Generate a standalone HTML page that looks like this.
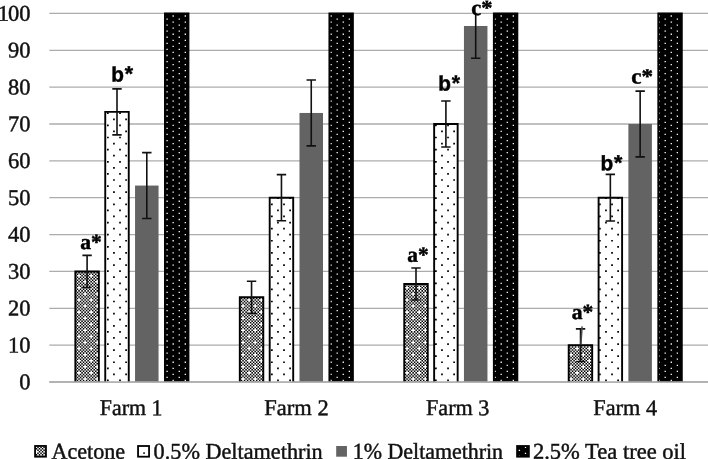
<!DOCTYPE html>
<html><head><meta charset="utf-8"><title>Chart</title>
<style>html,body{margin:0;padding:0;background:#fff;overflow:hidden}svg{display:block}text{font-family:"Liberation Serif",serif;fill:#111;stroke:#111;stroke-width:0.45px;text-rendering:geometricPrecision}.sb{font-family:"Liberation Sans",sans-serif;font-weight:bold;fill:#000;stroke:#000}.rb{font-family:"Liberation Serif",serif;font-weight:bold;fill:#000;stroke:#000}</style></head><body>
<div style="width:708px;height:459px;will-change:transform"><svg width="708" height="459" viewBox="0 0 708 459">
<rect width="708" height="459" fill="#fff"/>
<line x1="49.3" x2="708" y1="382" y2="382" stroke="#acacac" stroke-width="1.3"/>
<line x1="49.3" x2="708" y1="345.14" y2="345.14" stroke="#acacac" stroke-width="1.3"/>
<line x1="49.3" x2="708" y1="308.29" y2="308.29" stroke="#acacac" stroke-width="1.3"/>
<line x1="49.3" x2="708" y1="271.44" y2="271.44" stroke="#acacac" stroke-width="1.3"/>
<line x1="49.3" x2="708" y1="234.58" y2="234.58" stroke="#acacac" stroke-width="1.3"/>
<line x1="49.3" x2="708" y1="197.72" y2="197.72" stroke="#acacac" stroke-width="1.3"/>
<line x1="49.3" x2="708" y1="160.87" y2="160.87" stroke="#acacac" stroke-width="1.3"/>
<line x1="49.3" x2="708" y1="124.01" y2="124.01" stroke="#acacac" stroke-width="1.3"/>
<line x1="49.3" x2="708" y1="87.16" y2="87.16" stroke="#acacac" stroke-width="1.3"/>
<line x1="49.3" x2="708" y1="50.31" y2="50.31" stroke="#acacac" stroke-width="1.3"/>
<line x1="49.3" x2="708" y1="13.45" y2="13.45" stroke="#acacac" stroke-width="1.3"/>
<text text-anchor="end" transform="translate(30.6 389.25) matrix(1.0000 0.0006 0 1 0 0)" font-size="22.5">0</text>
<text text-anchor="end" transform="translate(30.6 352.39) matrix(1.0000 0.0006 0 1 0 0)" font-size="22.5">10</text>
<text text-anchor="end" transform="translate(30.6 315.54) matrix(1.0000 0.0006 0 1 0 0)" font-size="22.5">20</text>
<text text-anchor="end" transform="translate(30.6 278.69) matrix(1.0000 0.0006 0 1 0 0)" font-size="22.5">30</text>
<text text-anchor="end" transform="translate(30.6 241.83) matrix(1.0000 0.0006 0 1 0 0)" font-size="22.5">40</text>
<text text-anchor="end" transform="translate(30.6 204.97) matrix(1.0000 0.0006 0 1 0 0)" font-size="22.5">50</text>
<text text-anchor="end" transform="translate(30.6 168.12) matrix(1.0000 0.0006 0 1 0 0)" font-size="22.5">60</text>
<text text-anchor="end" transform="translate(30.6 131.26) matrix(1.0000 0.0006 0 1 0 0)" font-size="22.5">70</text>
<text text-anchor="end" transform="translate(30.6 94.41) matrix(1.0000 0.0006 0 1 0 0)" font-size="22.5">80</text>
<text text-anchor="end" transform="translate(30.6 57.56) matrix(1.0000 0.0006 0 1 0 0)" font-size="22.5">90</text>
<text text-anchor="end" transform="translate(30.6 20.7) matrix(1.0000 0.0006 0 1 0 0)" font-size="22.5">1<tspan dx="-1">00</tspan></text>
<clipPath id="k1"><rect x="75.35" y="271.44" width="23.5" height="110.56"/></clipPath>
<g clip-path="url(#k1)"><rect x="75.35" y="271.44" width="23.5" height="110.56" fill="#fff"/>
<path d="M61.55 271.13H99.8M60.04 272.65H99.8M61.55 274.16H99.8M61.55 277.20H99.8M60.04 278.72H99.8M61.55 280.24H99.8M61.55 283.28H99.8M60.04 284.79H99.8M61.55 286.31H99.8M61.55 289.35H99.8M60.04 290.87H99.8M61.55 292.39H99.8M61.55 295.43H99.8M60.04 296.94H99.8M61.55 298.46H99.8M61.55 301.50H99.8M60.04 303.02H99.8M61.55 304.54H99.8M61.55 307.57H99.8M60.04 309.09H99.8M61.55 310.61H99.8M61.55 313.65H99.8M60.04 315.17H99.8M61.55 316.69H99.8M61.55 319.72H99.8M60.04 321.24H99.8M61.55 322.76H99.8M61.55 325.80H99.8M60.04 327.32H99.8M61.55 328.83H99.8M61.55 331.87H99.8M60.04 333.39H99.8M61.55 334.91H99.8M61.55 337.95H99.8M60.04 339.46H99.8M61.55 340.98H99.8M61.55 344.02H99.8M60.04 345.54H99.8M61.55 347.06H99.8M61.55 350.09H99.8M60.04 351.61H99.8M61.55 353.13H99.8M61.55 356.17H99.8M60.04 357.69H99.8M61.55 359.21H99.8M61.55 362.24H99.8M60.04 363.76H99.8M61.55 365.28H99.8M61.55 368.32H99.8M60.04 369.84H99.8M61.55 371.36H99.8M61.55 374.39H99.8M60.04 375.91H99.8M61.55 377.43H99.8M61.55 380.47H99.8M60.04 381.99H99.8M61.55 383.50H99.8" fill="none" stroke="#000" stroke-width="1.5186" stroke-dasharray="1.5186 1.5186"/>
<path d="M69.15 275.68H99.8M63.07 281.76H99.8M69.15 287.83H99.8M63.07 293.91H99.8M69.15 299.98H99.8M63.07 306.06H99.8M69.15 312.13H99.8M63.07 318.20H99.8M69.15 324.28H99.8M63.07 330.35H99.8M69.15 336.43H99.8M63.07 342.50H99.8M69.15 348.58H99.8M63.07 354.65H99.8M69.15 360.72H99.8M63.07 366.80H99.8M69.15 372.87H99.8M63.07 378.95H99.8" fill="none" stroke="#000" stroke-width="1.5186" stroke-dasharray="1.5186 1.5186 1.5186 1.5186 1.5186 4.5558"/></g>
<path d="M75.35 382.0 V271.44 H98.85 V382.0" fill="none" stroke="#000" stroke-width="1.9"/>
<clipPath id="k2"><rect x="105.25" y="111.85" width="23.5" height="270.15"/></clipPath>
<g clip-path="url(#k2)"><rect x="105.25" y="111.85" width="23.5" height="270.15" fill="#fff"/>
<path d="M94.86 113.19H129.8M88.79 119.27H129.8M94.86 125.34H129.8M88.79 131.42H129.8M94.86 137.49H129.8M88.79 143.57H129.8M94.86 149.64H129.8M88.79 155.71H129.8M94.86 161.79H129.8M88.79 167.86H129.8M94.86 173.94H129.8M88.79 180.01H129.8M94.86 186.09H129.8M88.79 192.16H129.8M94.86 198.23H129.8M88.79 204.31H129.8M94.86 210.38H129.8M88.79 216.46H129.8M94.86 222.53H129.8M88.79 228.61H129.8M94.86 234.68H129.8M88.79 240.76H129.8M94.86 246.83H129.8M88.79 252.90H129.8M94.86 258.98H129.8M88.79 265.05H129.8M94.86 271.13H129.8M88.79 277.20H129.8M94.86 283.28H129.8M88.79 289.35H129.8M94.86 295.43H129.8M88.79 301.50H129.8M94.86 307.57H129.8M88.79 313.65H129.8M94.86 319.72H129.8M88.79 325.80H129.8M94.86 331.87H129.8M88.79 337.95H129.8M94.86 344.02H129.8M88.79 350.09H129.8M94.86 356.17H129.8M88.79 362.24H129.8M94.86 368.32H129.8M88.79 374.39H129.8M94.86 380.47H129.8" fill="none" stroke="#000" stroke-width="1.7186" stroke-dasharray="1.7186 10.4302"/></g>
<path d="M105.25 382.0 V111.85 H128.75 V382.0" fill="none" stroke="#000" stroke-width="1.9"/>
<rect x="135.05" y="185.56" width="23.5" height="196.44" fill="#636363"/>
<clipPath id="k3"><rect x="164.95" y="13.45" width="23.5" height="368.55"/></clipPath>
<g clip-path="url(#k3)"><rect x="164.95" y="13.45" width="23.5" height="368.55" fill="#000"/>
<path d="M154.30 12.97H189.4M160.37 16.00H189.4M154.30 19.04H189.4M160.37 22.08H189.4M154.30 25.11H189.4M160.37 28.15H189.4M154.30 31.19H189.4M160.37 34.23H189.4M154.30 37.26H189.4M160.37 40.30H189.4M154.30 43.34H189.4M160.37 46.37H189.4M154.30 49.41H189.4M160.37 52.45H189.4M154.30 55.49H189.4M160.37 58.52H189.4M154.30 61.56H189.4M160.37 64.60H189.4M154.30 67.64H189.4M160.37 70.67H189.4M154.30 73.71H189.4M160.37 76.75H189.4M154.30 79.78H189.4M160.37 82.82H189.4M154.30 85.86H189.4M160.37 88.90H189.4M154.30 91.93H189.4M160.37 94.97H189.4M154.30 98.01H189.4M160.37 101.04H189.4M154.30 104.08H189.4M160.37 107.12H189.4M154.30 110.16H189.4M160.37 113.19H189.4M154.30 116.23H189.4M160.37 119.27H189.4M154.30 122.30H189.4M160.37 125.34H189.4M154.30 128.38H189.4M160.37 131.42H189.4M154.30 134.45H189.4M160.37 137.49H189.4M154.30 140.53H189.4M160.37 143.57H189.4M154.30 146.60H189.4M160.37 149.64H189.4M154.30 152.68H189.4M160.37 155.71H189.4M154.30 158.75H189.4M160.37 161.79H189.4M154.30 164.83H189.4M160.37 167.86H189.4M154.30 170.90H189.4M160.37 173.94H189.4M154.30 176.97H189.4M160.37 180.01H189.4M154.30 183.05H189.4M160.37 186.09H189.4M154.30 189.12H189.4M160.37 192.16H189.4M154.30 195.20H189.4M160.37 198.23H189.4M154.30 201.27H189.4M160.37 204.31H189.4M154.30 207.35H189.4M160.37 210.38H189.4M154.30 213.42H189.4M160.37 216.46H189.4M154.30 219.50H189.4M160.37 222.53H189.4M154.30 225.57H189.4M160.37 228.61H189.4M154.30 231.64H189.4M160.37 234.68H189.4M154.30 237.72H189.4M160.37 240.76H189.4M154.30 243.79H189.4M160.37 246.83H189.4M154.30 249.87H189.4M160.37 252.90H189.4M154.30 255.94H189.4M160.37 258.98H189.4M154.30 262.02H189.4M160.37 265.05H189.4M154.30 268.09H189.4M160.37 271.13H189.4M154.30 274.16H189.4M160.37 277.20H189.4M154.30 280.24H189.4M160.37 283.28H189.4M154.30 286.31H189.4M160.37 289.35H189.4M154.30 292.39H189.4M160.37 295.43H189.4M154.30 298.46H189.4M160.37 301.50H189.4M154.30 304.54H189.4M160.37 307.57H189.4M154.30 310.61H189.4M160.37 313.65H189.4M154.30 316.69H189.4M160.37 319.72H189.4M154.30 322.76H189.4M160.37 325.80H189.4M154.30 328.83H189.4M160.37 331.87H189.4M154.30 334.91H189.4M160.37 337.95H189.4M154.30 340.98H189.4M160.37 344.02H189.4M154.30 347.06H189.4M160.37 350.09H189.4M154.30 353.13H189.4M160.37 356.17H189.4M154.30 359.21H189.4M160.37 362.24H189.4M154.30 365.28H189.4M160.37 368.32H189.4M154.30 371.36H189.4M160.37 374.39H189.4M154.30 377.43H189.4M160.37 380.47H189.4M154.30 383.50H189.4" fill="none" stroke="#fff" stroke-width="1.3000" stroke-dasharray="1.3000 10.8488"/></g>
<path d="M164.95 382.0 V13.45 H188.45 V382.0" fill="none" stroke="#000" stroke-width="1.9"/>
<clipPath id="k4"><rect x="239.8" y="297.23" width="23.5" height="84.77"/></clipPath>
<g clip-path="url(#k4)"><rect x="239.8" y="297.23" width="23.5" height="84.77" fill="#fff"/>
<path d="M224.04 296.94H264.3M225.56 298.46H264.3M225.56 301.50H264.3M224.04 303.02H264.3M225.56 304.54H264.3M225.56 307.57H264.3M224.04 309.09H264.3M225.56 310.61H264.3M225.56 313.65H264.3M224.04 315.17H264.3M225.56 316.69H264.3M225.56 319.72H264.3M224.04 321.24H264.3M225.56 322.76H264.3M225.56 325.80H264.3M224.04 327.32H264.3M225.56 328.83H264.3M225.56 331.87H264.3M224.04 333.39H264.3M225.56 334.91H264.3M225.56 337.95H264.3M224.04 339.46H264.3M225.56 340.98H264.3M225.56 344.02H264.3M224.04 345.54H264.3M225.56 347.06H264.3M225.56 350.09H264.3M224.04 351.61H264.3M225.56 353.13H264.3M225.56 356.17H264.3M224.04 357.69H264.3M225.56 359.21H264.3M225.56 362.24H264.3M224.04 363.76H264.3M225.56 365.28H264.3M225.56 368.32H264.3M224.04 369.84H264.3M225.56 371.36H264.3M225.56 374.39H264.3M224.04 375.91H264.3M225.56 377.43H264.3M225.56 380.47H264.3M224.04 381.99H264.3M225.56 383.50H264.3" fill="none" stroke="#000" stroke-width="1.5186" stroke-dasharray="1.5186 1.5186"/>
<path d="M227.08 299.98H264.3M233.16 306.06H264.3M227.08 312.13H264.3M233.16 318.20H264.3M227.08 324.28H264.3M233.16 330.35H264.3M227.08 336.43H264.3M233.16 342.50H264.3M227.08 348.58H264.3M233.16 354.65H264.3M227.08 360.72H264.3M233.16 366.80H264.3M227.08 372.87H264.3M233.16 378.95H264.3" fill="none" stroke="#000" stroke-width="1.5186" stroke-dasharray="1.5186 1.5186 1.5186 1.5186 1.5186 4.5558"/></g>
<path d="M239.8 382.0 V297.23 H263.3 V382.0" fill="none" stroke="#000" stroke-width="1.9"/>
<clipPath id="k5"><rect x="269.7" y="197.72" width="23.5" height="184.28"/></clipPath>
<g clip-path="url(#k5)"><rect x="269.7" y="197.72" width="23.5" height="184.28" fill="#fff"/>
<path d="M264.95 198.23H294.2M258.87 204.31H294.2M264.95 210.38H294.2M258.87 216.46H294.2M264.95 222.53H294.2M258.87 228.61H294.2M264.95 234.68H294.2M258.87 240.76H294.2M264.95 246.83H294.2M258.87 252.90H294.2M264.95 258.98H294.2M258.87 265.05H294.2M264.95 271.13H294.2M258.87 277.20H294.2M264.95 283.28H294.2M258.87 289.35H294.2M264.95 295.43H294.2M258.87 301.50H294.2M264.95 307.57H294.2M258.87 313.65H294.2M264.95 319.72H294.2M258.87 325.80H294.2M264.95 331.87H294.2M258.87 337.95H294.2M264.95 344.02H294.2M258.87 350.09H294.2M264.95 356.17H294.2M258.87 362.24H294.2M264.95 368.32H294.2M258.87 374.39H294.2M264.95 380.47H294.2" fill="none" stroke="#000" stroke-width="1.7186" stroke-dasharray="1.7186 10.4302"/></g>
<path d="M269.7 382.0 V197.72 H293.2 V382.0" fill="none" stroke="#000" stroke-width="1.9"/>
<rect x="299.5" y="112.96" width="23.5" height="269.04" fill="#636363"/>
<clipPath id="k6"><rect x="329.4" y="13.45" width="23.5" height="368.55"/></clipPath>
<g clip-path="url(#k6)"><rect x="329.4" y="13.45" width="23.5" height="368.55" fill="#000"/>
<path d="M324.38 12.97H353.9M318.31 16.00H353.9M324.38 19.04H353.9M318.31 22.08H353.9M324.38 25.11H353.9M318.31 28.15H353.9M324.38 31.19H353.9M318.31 34.23H353.9M324.38 37.26H353.9M318.31 40.30H353.9M324.38 43.34H353.9M318.31 46.37H353.9M324.38 49.41H353.9M318.31 52.45H353.9M324.38 55.49H353.9M318.31 58.52H353.9M324.38 61.56H353.9M318.31 64.60H353.9M324.38 67.64H353.9M318.31 70.67H353.9M324.38 73.71H353.9M318.31 76.75H353.9M324.38 79.78H353.9M318.31 82.82H353.9M324.38 85.86H353.9M318.31 88.90H353.9M324.38 91.93H353.9M318.31 94.97H353.9M324.38 98.01H353.9M318.31 101.04H353.9M324.38 104.08H353.9M318.31 107.12H353.9M324.38 110.16H353.9M318.31 113.19H353.9M324.38 116.23H353.9M318.31 119.27H353.9M324.38 122.30H353.9M318.31 125.34H353.9M324.38 128.38H353.9M318.31 131.42H353.9M324.38 134.45H353.9M318.31 137.49H353.9M324.38 140.53H353.9M318.31 143.57H353.9M324.38 146.60H353.9M318.31 149.64H353.9M324.38 152.68H353.9M318.31 155.71H353.9M324.38 158.75H353.9M318.31 161.79H353.9M324.38 164.83H353.9M318.31 167.86H353.9M324.38 170.90H353.9M318.31 173.94H353.9M324.38 176.97H353.9M318.31 180.01H353.9M324.38 183.05H353.9M318.31 186.09H353.9M324.38 189.12H353.9M318.31 192.16H353.9M324.38 195.20H353.9M318.31 198.23H353.9M324.38 201.27H353.9M318.31 204.31H353.9M324.38 207.35H353.9M318.31 210.38H353.9M324.38 213.42H353.9M318.31 216.46H353.9M324.38 219.50H353.9M318.31 222.53H353.9M324.38 225.57H353.9M318.31 228.61H353.9M324.38 231.64H353.9M318.31 234.68H353.9M324.38 237.72H353.9M318.31 240.76H353.9M324.38 243.79H353.9M318.31 246.83H353.9M324.38 249.87H353.9M318.31 252.90H353.9M324.38 255.94H353.9M318.31 258.98H353.9M324.38 262.02H353.9M318.31 265.05H353.9M324.38 268.09H353.9M318.31 271.13H353.9M324.38 274.16H353.9M318.31 277.20H353.9M324.38 280.24H353.9M318.31 283.28H353.9M324.38 286.31H353.9M318.31 289.35H353.9M324.38 292.39H353.9M318.31 295.43H353.9M324.38 298.46H353.9M318.31 301.50H353.9M324.38 304.54H353.9M318.31 307.57H353.9M324.38 310.61H353.9M318.31 313.65H353.9M324.38 316.69H353.9M318.31 319.72H353.9M324.38 322.76H353.9M318.31 325.80H353.9M324.38 328.83H353.9M318.31 331.87H353.9M324.38 334.91H353.9M318.31 337.95H353.9M324.38 340.98H353.9M318.31 344.02H353.9M324.38 347.06H353.9M318.31 350.09H353.9M324.38 353.13H353.9M318.31 356.17H353.9M324.38 359.21H353.9M318.31 362.24H353.9M324.38 365.28H353.9M318.31 368.32H353.9M324.38 371.36H353.9M318.31 374.39H353.9M324.38 377.43H353.9M318.31 380.47H353.9M324.38 383.50H353.9" fill="none" stroke="#fff" stroke-width="1.3000" stroke-dasharray="1.3000 10.8488"/></g>
<path d="M329.4 382.0 V13.45 H352.9 V382.0" fill="none" stroke="#000" stroke-width="1.9"/>
<clipPath id="k7"><rect x="404.25" y="283.97" width="23.5" height="98.03"/></clipPath>
<g clip-path="url(#k7)"><rect x="404.25" y="283.97" width="23.5" height="98.03" fill="#fff"/>
<path d="M389.57 283.28H428.8M388.05 284.79H428.8M389.57 286.31H428.8M389.57 289.35H428.8M388.05 290.87H428.8M389.57 292.39H428.8M389.57 295.43H428.8M388.05 296.94H428.8M389.57 298.46H428.8M389.57 301.50H428.8M388.05 303.02H428.8M389.57 304.54H428.8M389.57 307.57H428.8M388.05 309.09H428.8M389.57 310.61H428.8M389.57 313.65H428.8M388.05 315.17H428.8M389.57 316.69H428.8M389.57 319.72H428.8M388.05 321.24H428.8M389.57 322.76H428.8M389.57 325.80H428.8M388.05 327.32H428.8M389.57 328.83H428.8M389.57 331.87H428.8M388.05 333.39H428.8M389.57 334.91H428.8M389.57 337.95H428.8M388.05 339.46H428.8M389.57 340.98H428.8M389.57 344.02H428.8M388.05 345.54H428.8M389.57 347.06H428.8M389.57 350.09H428.8M388.05 351.61H428.8M389.57 353.13H428.8M389.57 356.17H428.8M388.05 357.69H428.8M389.57 359.21H428.8M389.57 362.24H428.8M388.05 363.76H428.8M389.57 365.28H428.8M389.57 368.32H428.8M388.05 369.84H428.8M389.57 371.36H428.8M389.57 374.39H428.8M388.05 375.91H428.8M389.57 377.43H428.8M389.57 380.47H428.8M388.05 381.99H428.8M389.57 383.50H428.8" fill="none" stroke="#000" stroke-width="1.5186" stroke-dasharray="1.5186 1.5186"/>
<path d="M397.16 287.83H428.8M391.09 293.91H428.8M397.16 299.98H428.8M391.09 306.06H428.8M397.16 312.13H428.8M391.09 318.20H428.8M397.16 324.28H428.8M391.09 330.35H428.8M397.16 336.43H428.8M391.09 342.50H428.8M397.16 348.58H428.8M391.09 354.65H428.8M397.16 360.72H428.8M391.09 366.80H428.8M397.16 372.87H428.8M391.09 378.95H428.8" fill="none" stroke="#000" stroke-width="1.5186" stroke-dasharray="1.5186 1.5186 1.5186 1.5186 1.5186 4.5558"/></g>
<path d="M404.25 382.0 V283.97 H427.75 V382.0" fill="none" stroke="#000" stroke-width="1.9"/>
<clipPath id="k8"><rect x="434.15" y="124.01" width="23.5" height="257.99"/></clipPath>
<g clip-path="url(#k8)"><rect x="434.15" y="124.01" width="23.5" height="257.99" fill="#fff"/>
<path d="M422.88 125.34H458.6M428.96 131.42H458.6M422.88 137.49H458.6M428.96 143.57H458.6M422.88 149.64H458.6M428.96 155.71H458.6M422.88 161.79H458.6M428.96 167.86H458.6M422.88 173.94H458.6M428.96 180.01H458.6M422.88 186.09H458.6M428.96 192.16H458.6M422.88 198.23H458.6M428.96 204.31H458.6M422.88 210.38H458.6M428.96 216.46H458.6M422.88 222.53H458.6M428.96 228.61H458.6M422.88 234.68H458.6M428.96 240.76H458.6M422.88 246.83H458.6M428.96 252.90H458.6M422.88 258.98H458.6M428.96 265.05H458.6M422.88 271.13H458.6M428.96 277.20H458.6M422.88 283.28H458.6M428.96 289.35H458.6M422.88 295.43H458.6M428.96 301.50H458.6M422.88 307.57H458.6M428.96 313.65H458.6M422.88 319.72H458.6M428.96 325.80H458.6M422.88 331.87H458.6M428.96 337.95H458.6M422.88 344.02H458.6M428.96 350.09H458.6M422.88 356.17H458.6M428.96 362.24H458.6M422.88 368.32H458.6M428.96 374.39H458.6M422.88 380.47H458.6" fill="none" stroke="#000" stroke-width="1.7186" stroke-dasharray="1.7186 10.4302"/></g>
<path d="M434.15 382.0 V124.01 H457.65 V382.0" fill="none" stroke="#000" stroke-width="1.9"/>
<rect x="463.95" y="25.98" width="23.5" height="356.02" fill="#636363"/>
<clipPath id="k9"><rect x="493.85" y="13.45" width="23.5" height="368.55"/></clipPath>
<g clip-path="url(#k9)"><rect x="493.85" y="13.45" width="23.5" height="368.55" fill="#000"/>
<path d="M482.32 12.97H518.4M488.39 16.00H518.4M482.32 19.04H518.4M488.39 22.08H518.4M482.32 25.11H518.4M488.39 28.15H518.4M482.32 31.19H518.4M488.39 34.23H518.4M482.32 37.26H518.4M488.39 40.30H518.4M482.32 43.34H518.4M488.39 46.37H518.4M482.32 49.41H518.4M488.39 52.45H518.4M482.32 55.49H518.4M488.39 58.52H518.4M482.32 61.56H518.4M488.39 64.60H518.4M482.32 67.64H518.4M488.39 70.67H518.4M482.32 73.71H518.4M488.39 76.75H518.4M482.32 79.78H518.4M488.39 82.82H518.4M482.32 85.86H518.4M488.39 88.90H518.4M482.32 91.93H518.4M488.39 94.97H518.4M482.32 98.01H518.4M488.39 101.04H518.4M482.32 104.08H518.4M488.39 107.12H518.4M482.32 110.16H518.4M488.39 113.19H518.4M482.32 116.23H518.4M488.39 119.27H518.4M482.32 122.30H518.4M488.39 125.34H518.4M482.32 128.38H518.4M488.39 131.42H518.4M482.32 134.45H518.4M488.39 137.49H518.4M482.32 140.53H518.4M488.39 143.57H518.4M482.32 146.60H518.4M488.39 149.64H518.4M482.32 152.68H518.4M488.39 155.71H518.4M482.32 158.75H518.4M488.39 161.79H518.4M482.32 164.83H518.4M488.39 167.86H518.4M482.32 170.90H518.4M488.39 173.94H518.4M482.32 176.97H518.4M488.39 180.01H518.4M482.32 183.05H518.4M488.39 186.09H518.4M482.32 189.12H518.4M488.39 192.16H518.4M482.32 195.20H518.4M488.39 198.23H518.4M482.32 201.27H518.4M488.39 204.31H518.4M482.32 207.35H518.4M488.39 210.38H518.4M482.32 213.42H518.4M488.39 216.46H518.4M482.32 219.50H518.4M488.39 222.53H518.4M482.32 225.57H518.4M488.39 228.61H518.4M482.32 231.64H518.4M488.39 234.68H518.4M482.32 237.72H518.4M488.39 240.76H518.4M482.32 243.79H518.4M488.39 246.83H518.4M482.32 249.87H518.4M488.39 252.90H518.4M482.32 255.94H518.4M488.39 258.98H518.4M482.32 262.02H518.4M488.39 265.05H518.4M482.32 268.09H518.4M488.39 271.13H518.4M482.32 274.16H518.4M488.39 277.20H518.4M482.32 280.24H518.4M488.39 283.28H518.4M482.32 286.31H518.4M488.39 289.35H518.4M482.32 292.39H518.4M488.39 295.43H518.4M482.32 298.46H518.4M488.39 301.50H518.4M482.32 304.54H518.4M488.39 307.57H518.4M482.32 310.61H518.4M488.39 313.65H518.4M482.32 316.69H518.4M488.39 319.72H518.4M482.32 322.76H518.4M488.39 325.80H518.4M482.32 328.83H518.4M488.39 331.87H518.4M482.32 334.91H518.4M488.39 337.95H518.4M482.32 340.98H518.4M488.39 344.02H518.4M482.32 347.06H518.4M488.39 350.09H518.4M482.32 353.13H518.4M488.39 356.17H518.4M482.32 359.21H518.4M488.39 362.24H518.4M482.32 365.28H518.4M488.39 368.32H518.4M482.32 371.36H518.4M488.39 374.39H518.4M482.32 377.43H518.4M488.39 380.47H518.4M482.32 383.50H518.4" fill="none" stroke="#fff" stroke-width="1.3000" stroke-dasharray="1.3000 10.8488"/></g>
<path d="M493.85 382.0 V13.45 H517.35 V382.0" fill="none" stroke="#000" stroke-width="1.9"/>
<clipPath id="k10"><rect x="568.7" y="345.14" width="23.5" height="36.86"/></clipPath>
<g clip-path="url(#k10)"><rect x="568.7" y="345.14" width="23.5" height="36.86" fill="#fff"/>
<path d="M552.06 345.54H593.2M553.58 347.06H593.2M553.58 350.09H593.2M552.06 351.61H593.2M553.58 353.13H593.2M553.58 356.17H593.2M552.06 357.69H593.2M553.58 359.21H593.2M553.58 362.24H593.2M552.06 363.76H593.2M553.58 365.28H593.2M553.58 368.32H593.2M552.06 369.84H593.2M553.58 371.36H593.2M553.58 374.39H593.2M552.06 375.91H593.2M553.58 377.43H593.2M553.58 380.47H593.2M552.06 381.99H593.2M553.58 383.50H593.2" fill="none" stroke="#000" stroke-width="1.5186" stroke-dasharray="1.5186 1.5186"/>
<path d="M555.10 348.58H593.2M561.17 354.65H593.2M555.10 360.72H593.2M561.17 366.80H593.2M555.10 372.87H593.2M561.17 378.95H593.2" fill="none" stroke="#000" stroke-width="1.5186" stroke-dasharray="1.5186 1.5186 1.5186 1.5186 1.5186 4.5558"/></g>
<path d="M568.7 382.0 V345.14 H592.2 V382.0" fill="none" stroke="#000" stroke-width="1.9"/>
<clipPath id="k11"><rect x="598.6" y="197.72" width="23.5" height="184.28"/></clipPath>
<g clip-path="url(#k11)"><rect x="598.6" y="197.72" width="23.5" height="184.28" fill="#fff"/>
<path d="M592.96 198.23H623.1M586.89 204.31H623.1M592.96 210.38H623.1M586.89 216.46H623.1M592.96 222.53H623.1M586.89 228.61H623.1M592.96 234.68H623.1M586.89 240.76H623.1M592.96 246.83H623.1M586.89 252.90H623.1M592.96 258.98H623.1M586.89 265.05H623.1M592.96 271.13H623.1M586.89 277.20H623.1M592.96 283.28H623.1M586.89 289.35H623.1M592.96 295.43H623.1M586.89 301.50H623.1M592.96 307.57H623.1M586.89 313.65H623.1M592.96 319.72H623.1M586.89 325.80H623.1M592.96 331.87H623.1M586.89 337.95H623.1M592.96 344.02H623.1M586.89 350.09H623.1M592.96 356.17H623.1M586.89 362.24H623.1M592.96 368.32H623.1M586.89 374.39H623.1M592.96 380.47H623.1" fill="none" stroke="#000" stroke-width="1.7186" stroke-dasharray="1.7186 10.4302"/></g>
<path d="M598.6 382.0 V197.72 H622.1 V382.0" fill="none" stroke="#000" stroke-width="1.9"/>
<rect x="628.4" y="124.01" width="23.5" height="257.99" fill="#636363"/>
<clipPath id="k12"><rect x="658.3" y="13.45" width="23.5" height="368.55"/></clipPath>
<g clip-path="url(#k12)"><rect x="658.3" y="13.45" width="23.5" height="368.55" fill="#000"/>
<path d="M652.40 12.97H682.8M646.32 16.00H682.8M652.40 19.04H682.8M646.32 22.08H682.8M652.40 25.11H682.8M646.32 28.15H682.8M652.40 31.19H682.8M646.32 34.23H682.8M652.40 37.26H682.8M646.32 40.30H682.8M652.40 43.34H682.8M646.32 46.37H682.8M652.40 49.41H682.8M646.32 52.45H682.8M652.40 55.49H682.8M646.32 58.52H682.8M652.40 61.56H682.8M646.32 64.60H682.8M652.40 67.64H682.8M646.32 70.67H682.8M652.40 73.71H682.8M646.32 76.75H682.8M652.40 79.78H682.8M646.32 82.82H682.8M652.40 85.86H682.8M646.32 88.90H682.8M652.40 91.93H682.8M646.32 94.97H682.8M652.40 98.01H682.8M646.32 101.04H682.8M652.40 104.08H682.8M646.32 107.12H682.8M652.40 110.16H682.8M646.32 113.19H682.8M652.40 116.23H682.8M646.32 119.27H682.8M652.40 122.30H682.8M646.32 125.34H682.8M652.40 128.38H682.8M646.32 131.42H682.8M652.40 134.45H682.8M646.32 137.49H682.8M652.40 140.53H682.8M646.32 143.57H682.8M652.40 146.60H682.8M646.32 149.64H682.8M652.40 152.68H682.8M646.32 155.71H682.8M652.40 158.75H682.8M646.32 161.79H682.8M652.40 164.83H682.8M646.32 167.86H682.8M652.40 170.90H682.8M646.32 173.94H682.8M652.40 176.97H682.8M646.32 180.01H682.8M652.40 183.05H682.8M646.32 186.09H682.8M652.40 189.12H682.8M646.32 192.16H682.8M652.40 195.20H682.8M646.32 198.23H682.8M652.40 201.27H682.8M646.32 204.31H682.8M652.40 207.35H682.8M646.32 210.38H682.8M652.40 213.42H682.8M646.32 216.46H682.8M652.40 219.50H682.8M646.32 222.53H682.8M652.40 225.57H682.8M646.32 228.61H682.8M652.40 231.64H682.8M646.32 234.68H682.8M652.40 237.72H682.8M646.32 240.76H682.8M652.40 243.79H682.8M646.32 246.83H682.8M652.40 249.87H682.8M646.32 252.90H682.8M652.40 255.94H682.8M646.32 258.98H682.8M652.40 262.02H682.8M646.32 265.05H682.8M652.40 268.09H682.8M646.32 271.13H682.8M652.40 274.16H682.8M646.32 277.20H682.8M652.40 280.24H682.8M646.32 283.28H682.8M652.40 286.31H682.8M646.32 289.35H682.8M652.40 292.39H682.8M646.32 295.43H682.8M652.40 298.46H682.8M646.32 301.50H682.8M652.40 304.54H682.8M646.32 307.57H682.8M652.40 310.61H682.8M646.32 313.65H682.8M652.40 316.69H682.8M646.32 319.72H682.8M652.40 322.76H682.8M646.32 325.80H682.8M652.40 328.83H682.8M646.32 331.87H682.8M652.40 334.91H682.8M646.32 337.95H682.8M652.40 340.98H682.8M646.32 344.02H682.8M652.40 347.06H682.8M646.32 350.09H682.8M652.40 353.13H682.8M646.32 356.17H682.8M652.40 359.21H682.8M646.32 362.24H682.8M652.40 365.28H682.8M646.32 368.32H682.8M652.40 371.36H682.8M646.32 374.39H682.8M652.40 377.43H682.8M646.32 380.47H682.8M652.40 383.50H682.8" fill="none" stroke="#fff" stroke-width="1.3000" stroke-dasharray="1.3000 10.8488"/></g>
<path d="M658.3 382.0 V13.45 H681.8 V382.0" fill="none" stroke="#000" stroke-width="1.9"/>
<line x1="49.3" x2="708" y1="382.0" y2="382.0" stroke="#acacac" stroke-width="1.3"/>
<path d="M87.1 255.34 V287.54 M82.4 255.34 h9.4 M82.4 287.54 h9.4" fill="none" stroke="#111" stroke-width="1.6"/>
<path d="M117 88.85 V134.85 M112.3 88.85 h9.4 M112.3 134.85 h9.4" fill="none" stroke="#111" stroke-width="1.6"/>
<path d="M146.8 152.66 V218.46 M142.1 152.66 h9.4 M142.1 218.46 h9.4" fill="none" stroke="#111" stroke-width="1.6"/>
<path d="M251.55 281.23 V313.23 M246.85 281.23 h9.4 M246.85 313.23 h9.4" fill="none" stroke="#111" stroke-width="1.6"/>
<path d="M281.45 174.62 V220.82 M276.75 174.62 h9.4 M276.75 220.82 h9.4" fill="none" stroke="#111" stroke-width="1.6"/>
<path d="M311.25 80.06 V145.86 M306.55 80.06 h9.4 M306.55 145.86 h9.4" fill="none" stroke="#111" stroke-width="1.6"/>
<path d="M416 267.97 V299.97 M411.3 267.97 h9.4 M411.3 299.97 h9.4" fill="none" stroke="#111" stroke-width="1.6"/>
<path d="M445.9 101.01 V147.01 M441.2 101.01 h9.4 M441.2 147.01 h9.4" fill="none" stroke="#111" stroke-width="1.6"/>
<path d="M475.7 13.2 V58.28 M471 58.28 h9.4" fill="none" stroke="#111" stroke-width="1.6"/>
<path d="M580.55 328.84 V361.44 M575.85 328.84 h9.4 M575.85 361.44 h9.4" fill="none" stroke="#111" stroke-width="1.6"/>
<path d="M610.35 174.42 V221.03 M605.65 174.42 h9.4 M605.65 221.03 h9.4" fill="none" stroke="#111" stroke-width="1.6"/>
<path d="M640.15 91.11 V156.91 M635.45 91.11 h9.4 M635.45 156.91 h9.4" fill="none" stroke="#111" stroke-width="1.6"/>
<path d="M582.1 326.4 L580.9 344.5" fill="none" stroke="#4a4a4a" stroke-width="1.5"/>
<text class="rb" transform="translate(80.25 249.1) matrix(1.0053 0.0006 0 1 0 0)" font-size="21.5">a*</text>
<text class="rb" transform="translate(407.36 261.8) matrix(0.9952 0.0006 0 1 0 0)" font-size="21.5">a*</text>
<text class="rb" transform="translate(471.28 14.9) matrix(1.0334 0.0006 0 1 0 0)" font-size="21.8">c*</text>
<text class="rb" transform="translate(571.75 319) matrix(1.0028 0.0006 0 1 0 0)" font-size="21.5">a*</text>
<text class="rb" transform="translate(631.27 83.4) matrix(1.0545 0.0006 0 1 0 0)" font-size="21.8">c*</text>
<text class="sb" transform="translate(111.14 81.45) matrix(1 0.0006 0 1 0 0)"><tspan font-size="20.8">b</tspan><tspan x="13.51" y="-0.35" font-size="21.4">*</tspan></text>
<text class="sb" transform="translate(438.14 90.6) matrix(1 0.0006 0 1 0 0)"><tspan font-size="20.8">b</tspan><tspan x="13.51" y="-0.45" font-size="21.4">*</tspan></text>
<text class="sb" transform="translate(600.59 170.3) matrix(1 0.0006 0 1 0 0)"><tspan font-size="20.8">b</tspan><tspan x="13.36" y="-0.4" font-size="21.4">*</tspan></text>
<text transform="translate(99.84 415.1) matrix(0.9664 0.0006 0 1 0 0)" font-size="22.6">Farm 1</text>
<text transform="translate(264.33 415.1) matrix(0.9952 0.0006 0 1 0 0)" font-size="22.6">Farm 2</text>
<text transform="translate(426.04 415.1) matrix(0.9801 0.0006 0 1 0 0)" font-size="22.6">Farm 3</text>
<text transform="translate(593.33 415.1) matrix(0.9865 0.0006 0 1 0 0)" font-size="22.6">Farm 4</text>
<clipPath id="k13"><rect x="35.07" y="445.95" width="10.9" height="10.75"/></clipPath>
<g clip-path="url(#k13)"><rect x="35.07" y="445.95" width="10.9" height="10.75" fill="#fff"/>
<path d="M19.03 447.29H47.0M20.55 448.80H47.0M19.03 450.32H47.0M19.03 453.36H47.0M20.55 454.88H47.0M19.03 456.40H47.0" fill="none" stroke="#000" stroke-width="1.5186" stroke-dasharray="1.5186 1.5186"/>
<path d="M20.55 445.77H47.0M26.63 451.84H47.0M20.55 457.92H47.0" fill="none" stroke="#000" stroke-width="1.5186" stroke-dasharray="1.5186 1.5186 1.5186 1.5186 1.5186 4.5558"/></g>
<rect x="35.07" y="445.95" width="10.9" height="10.75" fill="none" stroke="#000" stroke-width="1.8"/>
<text transform="translate(51.48 458.8) matrix(0.9778 0.0006 0 1 0 0)" font-size="22.6">Acetone</text>
<rect x="138.05" y="446.0" width="11.0" height="10.7" fill="#fff" stroke="#000" stroke-width="1.8"/><rect x="143.25" y="452.3" width="1.6" height="1.6" fill="#000"/>
<text transform="translate(153.61 458.8) matrix(0.9834 0.0006 0 1 0 0)" font-size="22.6">0.5% Deltamethrin</text>
<rect x="336.2" y="446.0" width="10.75" height="10.7" fill="#636363"/>
<text transform="translate(352.83 458.8) matrix(0.9695 0.0006 0 1 0 0)" font-size="22.6">1% Deltamethrin</text>
<clipPath id="k14"><rect x="517.07" y="446" width="11.8" height="10.7"/></clipPath>
<g clip-path="url(#k14)"><rect x="517.07" y="446" width="11.8" height="10.7" fill="#000"/>
<path d="M506.61 444.25H529.9M500.54 447.29H529.9M506.61 450.32H529.9M500.54 453.36H529.9M506.61 456.40H529.9M500.54 459.43H529.9" fill="none" stroke="#fff" stroke-width="1.3000" stroke-dasharray="1.3000 10.8488"/></g>
<rect x="517.07" y="446.0" width="11.8" height="10.7" fill="none" stroke="#000" stroke-width="1.8"/>
<text transform="translate(532.9 458.8) matrix(0.9972 0.0006 0 1 0 0)" font-size="22.6">2.5% Tea tree oil</text>
</svg></div></body></html>
